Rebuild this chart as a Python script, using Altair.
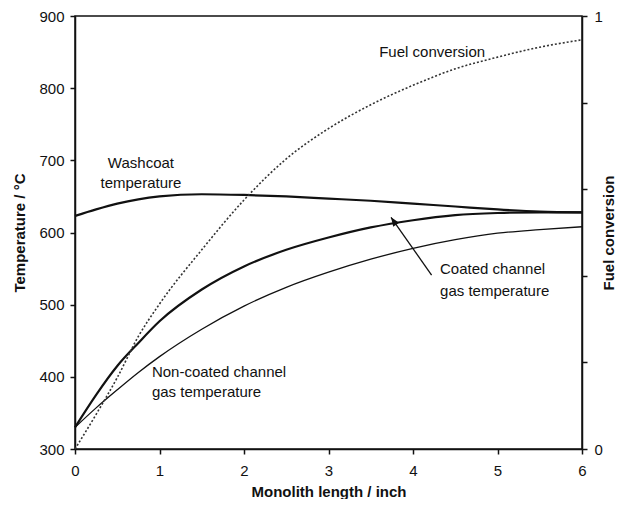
import altair as alt
import pandas as pd

# ---- data ----
length = [0, 0.25, 0.5, 0.75, 1, 1.5, 2, 2.5, 3, 3.5, 4, 4.5, 5, 5.5, 6]
washcoat_temp = [623, 632, 640, 646, 650, 653, 652, 650, 647, 644, 640, 636, 632, 629, 628]
coated_temp = [330, 375, 415, 447, 477, 521, 553, 576, 593, 607, 617, 624, 627, 628, 628]
noncoated_temp = [330, 357, 382, 406, 428, 466, 498, 524, 545, 563, 578, 590, 599, 604, 608]
fuel_conversion = [0, 0.08, 0.165, 0.26, 0.335, 0.46, 0.575, 0.67, 0.74, 0.795, 0.84, 0.878, 0.905, 0.928, 0.945]

x_ticks = [0, 1, 2, 3, 4, 5, 6]
temp_ticks = [300, 400, 500, 600, 700, 800, 900]
conv_ticks = [0, 0.2, 0.4, 0.6, 0.8, 1]

# annotations (data coordinates)
center_labels = ["Washcoat", "temperature"]
center_x = [0.78, 0.78]
center_y = [696, 669]
left_labels = ["Fuel conversion", "Coated channel", "gas temperature",
               "Non-coated channel", "gas temperature"]
left_x = [3.6, 4.32, 4.32, 0.91, 0.91]
left_y = [850, 549, 519, 407, 379]
arrow_tail = [4.22, 541]
arrow_tip = [3.74, 621]

FONT = "Liberation Sans"
INK = "#111111"

df = pd.DataFrame({
    "x": length,
    "washcoat": washcoat_temp,
    "coated": coated_temp,
    "noncoated": noncoated_temp,
    "fuel": fuel_conversion,
})

xs = alt.Scale(domain=[0, 6], nice=False, zero=False)
ys = alt.Scale(domain=[300, 900], nice=False, zero=False)
cs = alt.Scale(domain=[0, 1], nice=False)

x_axis = alt.Axis(values=x_ticks, format="d", title="Monolith length / inch",
                  labelFlush=False, tickSize=5, labelPadding=9,
                  titleBaseline="middle", titleY=42)
y_axis = alt.Axis(values=temp_ticks, format="d", title="Temperature / °C",
                  tickSize=5, labelPadding=6, titleAngle=-90,
                  titleBaseline="bottom", titleX=-48)
c_axis = alt.Axis(values=conv_ticks, orient="right", title="Fuel conversion",
                  labelExpr="datum.value == 0 ? '0' : (datum.value == 1 ? '1' : '')",
                  tickSize=5, labelPadding=7, titleAngle=-90,
                  titleBaseline="top", titleX=19)

X = alt.X("x:Q", scale=xs, axis=x_axis)


def tline(col, width):
    return alt.Chart(df).mark_line(color=INK, strokeWidth=width, interpolate="monotone").encode(
        x=X, y=alt.Y(f"{col}:Q", scale=ys, axis=y_axis),
    )


wash = tline("washcoat", 2.2)
coat = tline("coated", 2.2)
noncoat = tline("noncoated", 1.3)

ctext = alt.Chart(pd.DataFrame({"x": center_x, "y": center_y, "t": center_labels})).mark_text(
    font=FONT, fontSize=15, color=INK, align="center", baseline="middle"
).encode(x=X, y=alt.Y("y:Q", scale=ys, axis=y_axis), text="t:N")

ltext = alt.Chart(pd.DataFrame({"x": left_x, "y": left_y, "t": left_labels})).mark_text(
    font=FONT, fontSize=15, color=INK, align="left", baseline="middle"
).encode(x=X, y=alt.Y("y:Q", scale=ys, axis=y_axis), text="t:N")

arrow_df = pd.DataFrame({"x": [arrow_tail[0]], "y": [arrow_tail[1]],
                         "x2": [arrow_tip[0]], "y2": [arrow_tip[1]]})
arrow_line = alt.Chart(arrow_df).mark_rule(color=INK, strokeWidth=1.3).encode(
    x=X, y=alt.Y("y:Q", scale=ys, axis=y_axis), x2="x2:Q", y2="y2:Q")
arrow_head = alt.Chart(arrow_df).mark_point(
    shape="M0,0L-0.4,1L0.4,1Z", filled=True, color=INK, opacity=1, size=324, angle=325
).encode(x=alt.X("x2:Q", scale=xs, axis=x_axis), y=alt.Y("y2:Q", scale=ys, axis=y_axis))

temp_group = alt.layer(wash, coat, noncoat, ctext, ltext, arrow_line, arrow_head)

fuel = alt.Chart(df).mark_line(color="#333333", strokeWidth=1.6, strokeDash=[2, 2],
                               interpolate="monotone").encode(
    x=X,
    y=alt.Y("fuel:Q", scale=cs, axis=c_axis),
)

chart = alt.layer(temp_group, fuel).resolve_scale(y="independent").properties(
    width=507, height=433,
    autosize=alt.AutoSizeParams(type="none"),
    padding={"left": 67, "top": 8, "right": 34, "bottom": 50},
).configure_view(stroke=INK, strokeWidth=1.5).configure_axis(
    grid=False, domainColor=INK, domainWidth=1.5, tickColor=INK, tickWidth=1.5,
    labelFont=FONT, labelFontSize=15, labelColor=INK,
    titleFont=FONT, titleFontSize=15, titleFontWeight="bold", titleColor=INK,
)

chart.save("out.html", embed_options={"renderer": "svg", "actions": False})
